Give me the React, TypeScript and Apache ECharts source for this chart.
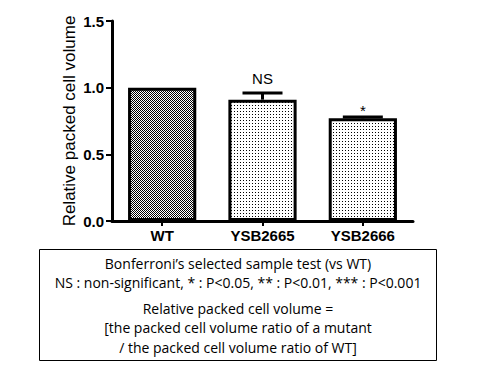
import React, { useEffect, useRef } from "react";
import * as echarts from "echarts";

const categories = ["WT", "YSB2665", "YSB2666"];
const means = [1.0, 0.91, 0.77];
const errors = [0, 0.05, 0.01];
const sigLabels = ["", "NS", "*"];
const yTicks = [0, 0.5, 1.0, 1.5];
const noteLines = [
  "Bonferroni’s selected sample test (vs WT)",
  "NS : non-significant, * : P<0.05, ** : P<0.01, *** : P<0.001",
  "Relative packed cell volume =",
  "[the packed cell volume ratio of a mutant",
  "/ the packed cell volume ratio of WT]",
];

function makePattern(kind: "check" | "dots"): HTMLCanvasElement {
  const c = document.createElement("canvas");
  const size = kind === "check" ? 2 : 3;
  c.width = size;
  c.height = size;
  const ctx = c.getContext("2d")!;
  ctx.fillStyle = "#fff";
  ctx.fillRect(0, 0, size, size);
  ctx.fillStyle = "#000";
  if (kind === "check") {
    ctx.fillRect(0, 0, 1, 1);
    ctx.fillRect(1, 1, 1, 1);
  } else {
    ctx.fillRect(0, 0, 1, 1);
  }
  return c;
}

export default function App() {
  const ref = useRef<HTMLDivElement>(null);
  useEffect(() => {
    if (!ref.current) return;
    const chart = echarts.init(ref.current, undefined, { renderer: "svg" });
    const checkPat = makePattern("check");
    const dotPat = makePattern("dots");
    const noteY = [263, 282, 308, 327, 347];
    chart.setOption({
      animation: false,
      backgroundColor: "#fff",
      grid: { left: 112, right: 67, top: 21, bottom: 149 },
      xAxis: {
        type: "category",
        data: categories,
        axisLine: { lineStyle: { color: "#000", width: 3 } },
        axisTick: { show: true, alignWithLabel: true, length: 5, lineStyle: { color: "#000", width: 2 } },
        axisLabel: { color: "#000", fontFamily: "Arial, Liberation Sans", fontWeight: "bold", fontSize: 15, margin: 7 },
      },
      yAxis: {
        type: "value",
        min: 0,
        max: 1.5,
        interval: 0.5,
        name: "Relative packed cell volume",
        nameLocation: "middle",
        nameGap: 34,
        nameMoveOverlap: false,
        nameTextStyle: { color: "#000", fontFamily: "Arial, Liberation Sans", fontSize: 17, fontWeight: "normal" },
        splitLine: { show: false },
        axisLine: { show: true, lineStyle: { color: "#000", width: 3 } },
        axisTick: { show: true, length: 6, lineStyle: { color: "#000", width: 2 } },
        axisLabel: {
          color: "#000",
          fontFamily: "Arial, Liberation Sans",
          fontWeight: "bold",
          fontSize: 15,
          margin: 8,
          formatter: (v: number) => (yTicks.includes(v) ? v.toFixed(1) : ""),
        },
      },
      series: [
        {
          type: "bar",
          data: means.map((v, i) => ({
            value: v,
            itemStyle: {
              color: { image: i === 0 ? checkPat : dotPat, repeat: "repeat" },
            },
          })),
          barWidth: "68%",
          itemStyle: { borderColor: "#000", borderWidth: 3 },
        },
        {
          type: "custom",
          data: means.map((m, i) => [i, m, errors[i]]),
          renderItem: (params: any, api: any) => {
            const i = api.value(0);
            const m = api.value(1);
            const e = api.value(2);
            const base = api.coord([i, m]);
            const top = api.coord([i, m + e]);
            const half = 20;
            const children: any[] = [];
            if (e > 0) {
              children.push({
                type: "line",
                shape: { x1: base[0], y1: base[1], x2: top[0], y2: top[1] },
                style: { stroke: "#000", lineWidth: 3 },
              });
              children.push({
                type: "line",
                shape: { x1: top[0] - half, y1: top[1], x2: top[0] + half, y2: top[1] },
                style: { stroke: "#000", lineWidth: 3 },
              });
            }
            const lbl = sigLabels[params.dataIndex];
            if (lbl) {
              const isStar = lbl.indexOf("*") >= 0;
              children.push({
                type: "text",
                x: top[0],
                y: isStar ? top[1] + 1 : top[1] - 7,
                style: {
                  text: lbl,
                  fill: "#000",
                  font: "15px Arial, Liberation Sans",
                  align: "center",
                  verticalAlign: "bottom",
                },
              });
            }
            return { type: "group", children };
          },
          z: 5,
        },
      ],
      graphic: [
        {
          type: "rect",
          shape: { x: 39.5, y: 249.5, width: 397, height: 111 },
          style: { fill: "none", stroke: "#000", lineWidth: 1 },
        },
        ...noteLines.map((t, i) => ({
          type: "text",
          x: 238,
          y: noteY[i],
          style: {
            text: t,
            fill: "#000",
            font: "14px 'Open Sans', sans-serif",
            align: "center",
            verticalAlign: "middle",
          },
        })),
      ],
    });
    return () => chart.dispose();
  }, []);
  return <div ref={ref} style={{ width: 480, height: 370, position: "absolute", left: 0, top: 0 }} />;
}
